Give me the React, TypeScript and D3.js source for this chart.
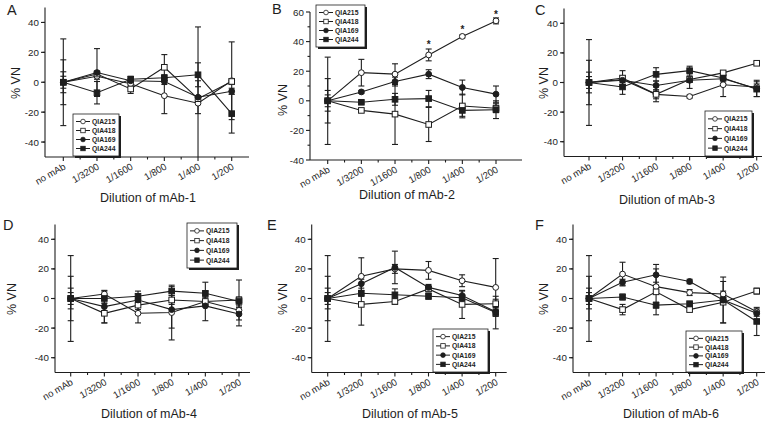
import React from "react";
import * as d3 from "d3";

// ---------- data ----------
const categories = ["no mAb", "1/3200", "1/1600", "1/800", "1/400", "1/200"];
const seriesNames = ["QIA215", "QIA418", "QIA169", "QIA244"];
const seriesMarkers = ["openCircle", "openSquare", "filledCircle", "filledSquare"];
const yTicksStd = [-40, -20, 0, 20, 40];
const yTicksB = [-40, -20, 0, 20, 40, 60];
const panelLetters = ["A", "B", "C", "D", "E", "F"];
const xTitles = ["Dilution of mAb-1", "Dilution of mAb-2", "Dilution of mAb-3", "Dilution of mAb-4", "Dilution of mAb-5", "Dilution of mAb-6"];

// Panel A
const A_QIA215 = [0, 4, -1, -9, -14, 1];
const A_QIA215_err = [29, 2, 1.5, 12, 51, 26];
const A_QIA418 = [0, 5.5, -4.5, 10, -11, 0.5];
const A_QIA418_err = [15, 2, 3, 8.5, 2, 2];
const A_QIA169 = [0, 6.5, 1, 0.5, -10, -6];
const A_QIA169_err = [7, 16, 1.5, 2, 11, 2];
const A_QIA244 = [0, -7, 2, 3, 5, -21];
const A_QIA244_err = [4, 7.5, 2, 2, 8, 13];

// Panel B
const B_QIA215 = [0, 19, 18, 31, 43.5, 54];
const B_QIA215_err = [29.5, 9, 7, 4, 1, 2];
const B_QIA418 = [0, -6.5, -9, -16, -3.5, -5];
const B_QIA418_err = [15, 1, 20.5, 11.5, 8, 3];
const B_QIA169 = [0, 6, 13, 18, 9, 4.5];
const B_QIA169_err = [7, 1, 3, 3, 5, 5.5];
const B_QIA244 = [0, -1, 1, 1.5, -6.5, -6];
const B_QIA244_err = [4, 1, 4, 5.5, 4, 6];
const B_starCategories = ["1/800", "1/400", "1/200"];
const B_starValues = [39, 49.5, 59];

// Panel C
const C_QIA215 = [0, 2, -8, -9.5, -1.5, -3];
const C_QIA215_err = [29, 2, 3, 1, 8, 2];
const C_QIA418 = [0, 3, -8, 2, 6.5, 13];
const C_QIA418_err = [15, 5, 5, 2, 1, 1];
const C_QIA169 = [0, 1.5, -2, 1.5, 2.5, -4];
const C_QIA169_err = [7, 3, 3, 5.5, 3, 5.5];
const C_QIA244 = [0, -3, 5.5, 8, 3, -4.5];
const C_QIA244_err = [4, 5, 4.5, 3, 2, 5];

// Panel D
const D_QIA215 = [0, 3, -10, -9.5, -2, -8];
const D_QIA215_err = [29, 2, 6.5, 18.5, 3, 2];
const D_QIA418 = [0, -10, -4.5, -1, -2, -1];
const D_QIA418_err = [15, 6.5, 3, 3, 3, 13.5];
const D_QIA169 = [0, -5.5, -1, -7.5, -5, -10.5];
const D_QIA169_err = [7, 11, 2, 12.5, 10, 8];
const D_QIA244 = [0, 0, 1.5, 5, 3.5, -2];
const D_QIA244_err = [4, 3, 3.5, 3, 7.5, 3];

// Panel E
const E_QIA215 = [0, 15, 20, 19, 12, 7.5];
const E_QIA215_err = [29, 12.5, 3, 6, 4, 19.5];
const E_QIA418 = [0, -4, -2, 6.5, -4, -3.5];
const E_QIA418_err = [15, 14, 2, 2, 9.5, 3];
const E_QIA169 = [0, 10, 21, 7.5, 2, -9];
const E_QIA169_err = [7, 3, 11, 2, 3, 3];
const E_QIA244 = [0, 3.5, 2.5, 1.5, 0.5, -9.5];
const E_QIA244_err = [4, 2, 4, 2, 2, 11];

// Panel F
const F_QIA215 = [0, 16.5, 8, 4, 3, -9];
const F_QIA215_err = [29, 8, 3, 2, 2, 2];
const F_QIA418 = [0, -7.5, 4.5, -7.5, -2.5, 5];
const F_QIA418_err = [15, 3.5, 15.5, 1, 14, 2];
const F_QIA169 = [0, 11, 16, 11.5, -1, -10];
const F_QIA169_err = [7, 2, 7, 1.5, 15.5, 2];
const F_QIA244 = [0, 1, -4.5, -3.5, -1, -15.5];
const F_QIA244_err = [4, 2, 2, 1, 2, 9.5];

const panelSeries = [
  [[A_QIA215, A_QIA215_err], [A_QIA418, A_QIA418_err], [A_QIA169, A_QIA169_err], [A_QIA244, A_QIA244_err]],
  [[B_QIA215, B_QIA215_err], [B_QIA418, B_QIA418_err], [B_QIA169, B_QIA169_err], [B_QIA244, B_QIA244_err]],
  [[C_QIA215, C_QIA215_err], [C_QIA418, C_QIA418_err], [C_QIA169, C_QIA169_err], [C_QIA244, C_QIA244_err]],
  [[D_QIA215, D_QIA215_err], [D_QIA418, D_QIA418_err], [D_QIA169, D_QIA169_err], [D_QIA244, D_QIA244_err]],
  [[E_QIA215, E_QIA215_err], [E_QIA418, E_QIA418_err], [E_QIA169, E_QIA169_err], [E_QIA244, E_QIA244_err]],
  [[F_QIA215, F_QIA215_err], [F_QIA418, F_QIA418_err], [F_QIA169, F_QIA169_err], [F_QIA244, F_QIA244_err]],
];

// ---------- layout ----------
type Layout = {
  axisX: number; x0: number; x5: number; xEnd: number;
  yTop: number; yBot: number; yMin: number; yMax: number;
  letter: [number, number]; title: [number, number]; ylab: [number, number];
  legend: [number, number, number, number];
};

const layouts: Layout[] = [
  { axisX: 45, x0: 63.3, x5: 231.7, xEnd: 249, yTop: 7.5, yBot: 157, yMin: -50, yMax: 50, letter: [7, 15], title: [148, 202], ylab: [20, 83], legend: [73, 114, 46, 42] },
  { axisX: 310, x0: 327.7, x5: 496, xEnd: 522, yTop: 12, yBot: 160, yMin: -40, yMax: 60, letter: [272, 14], title: [407, 199], ylab: [287, 100], legend: [316, 5, 49, 42] },
  { axisX: 564, x0: 589, x5: 756.7, xEnd: 762, yTop: 8.5, yBot: 156.5, yMin: -50, yMax: 50, letter: [535, 15], title: [667, 204], ylab: [548, 83], legend: [705, 111, 47, 45] },
  { axisX: 55, x0: 70.7, x5: 239, xEnd: 250, yTop: 224.5, yBot: 372.5, yMin: -50, yMax: 50, letter: [3, 230], title: [149, 418], ylab: [16, 299], legend: [187, 223, 50, 45] },
  { axisX: 311.7, x0: 327.7, x5: 495.7, xEnd: 506.7, yTop: 224.5, yBot: 372.5, yMin: -50, yMax: 50, letter: [267, 230], title: [410, 418], ylab: [287, 299], legend: [433, 329, 55, 43] },
  { axisX: 573, x0: 589, x5: 756.7, xEnd: 765, yTop: 224.5, yBot: 372.5, yMin: -50, yMax: 50, letter: [535, 230], title: [671, 418], ylab: [548, 299], legend: [686, 331, 56, 41] },
];

const INK = "#1e1e1e";
const FONT = "'Liberation Sans', Arial, sans-serif";
const SW = 1.1;

function Marker({ kind, x, y }: { kind: string; x: number; y: number }) {
  const r = 2.9;
  const s = 5.6;
  if (kind === "openCircle") return <circle cx={x} cy={y} r={r} fill="#fff" stroke={INK} strokeWidth={1} />;
  if (kind === "filledCircle") return <circle cx={x} cy={y} r={r} fill={INK} stroke={INK} strokeWidth={1} />;
  if (kind === "openSquare") return <rect x={x - s / 2} y={y - s / 2} width={s} height={s} fill="#fff" stroke={INK} strokeWidth={1} />;
  return <rect x={x - s / 2} y={y - s / 2} width={s} height={s} fill={INK} stroke={INK} strokeWidth={1} />;
}

function Panel({ idx }: { idx: number }) {
  const L = layouts[idx];
  const x = d3.scalePoint<string>().domain(categories).range([L.x0, L.x5]);
  const y = d3.scaleLinear().domain([L.yMin, L.yMax]).range([L.yBot, L.yTop]);
  const yTicks = idx === 1 ? yTicksB : yTicksStd;
  const minorY = d3.range(L.yMin + 10, L.yMax + 1, 20);
  const step = x.step();
  const minorX = categories.slice(0, -1).map((c) => (x(c) as number) + step / 2);
  const clamp = (v: number) => Math.max(L.yMin, Math.min(L.yMax, v));
  const line = d3.line<number>().x((_, i) => x(categories[i]) as number).y((v) => y(v));
  const series = panelSeries[idx];
  const [lx, ly, lw, lh] = L.legend;
  const rowH = (lh - 6) / 4;

  return (
    <g>
      {/* error bars */}
      {series.map(([vals, errs], si) => (
        <g key={"e" + si}>
          {vals.map((v, i) => {
            const cx = x(categories[i]) as number;
            const hi = v + errs[i];
            const lo = v - errs[i];
            return (
              <g key={i} stroke={INK} strokeWidth={SW}>
                <line x1={cx} x2={cx} y1={y(clamp(hi))} y2={y(clamp(lo))} />
                {hi <= L.yMax && <line x1={cx - 3} x2={cx + 3} y1={y(hi)} y2={y(hi)} />}
                {lo >= L.yMin && <line x1={cx - 3} x2={cx + 3} y1={y(lo)} y2={y(lo)} />}
              </g>
            );
          })}
        </g>
      ))}
      {/* lines */}
      {series.map(([vals], si) => (
        <path key={"l" + si} d={line(vals) as string} fill="none" stroke={INK} strokeWidth={SW} />
      ))}
      {/* markers */}
      {series.map(([vals], si) => (
        <g key={"m" + si}>
          {vals.map((v, i) => (
            <Marker key={i} kind={seriesMarkers[si]} x={x(categories[i]) as number} y={y(v)} />
          ))}
        </g>
      ))}
      {/* stars */}
      {idx === 1 &&
        B_starCategories.map((c, i) => (
          <text key={"s" + i} x={x(c) as number} y={y(B_starValues[i]) + 5} textAnchor="middle" fontSize={10} fontFamily={FONT} fontWeight="bold" fill={INK}>
            *
          </text>
        ))}
      {/* axes */}
      <line x1={L.axisX} x2={L.axisX} y1={L.yTop} y2={L.yBot} stroke={INK} strokeWidth={SW} />
      <line x1={L.axisX} x2={L.xEnd} y1={L.yBot} y2={L.yBot} stroke={INK} strokeWidth={SW} />
      {yTicks.map((t) => (
        <g key={"yt" + t}>
          <line x1={L.axisX - 4} x2={L.axisX} y1={y(t)} y2={y(t)} stroke={INK} strokeWidth={SW} />
          <text x={L.axisX - 6} y={y(t) + 3.5} textAnchor="end" fontSize={9.8} fontFamily={FONT} fill={INK}>
            {t}
          </text>
        </g>
      ))}
      {minorY.map((t) => (
        <line key={"ym" + t} x1={L.axisX - 2.5} x2={L.axisX} y1={y(t)} y2={y(t)} stroke={INK} strokeWidth={SW} />
      ))}
      {categories.map((c) => (
        <g key={"xt" + c}>
          <line x1={x(c) as number} x2={x(c) as number} y1={L.yBot} y2={L.yBot + 4} stroke={INK} strokeWidth={SW} />
          <text transform={`translate(${(x(c) as number) + 3},${L.yBot + 11.5}) rotate(-30)`} textAnchor="end" fontSize={9.6} fontFamily={FONT} fill={INK}>
            {c}
          </text>
        </g>
      ))}
      {minorX.map((mx, i) => (
        <line key={"xm" + i} x1={mx} x2={mx} y1={L.yBot} y2={L.yBot + 2.5} stroke={INK} strokeWidth={SW} />
      ))}
      {/* titles */}
      <text x={L.title[0]} y={L.title[1]} textAnchor="middle" fontSize={12.5} fontFamily={FONT} fill={INK}>
        {xTitles[idx]}
      </text>
      <text transform={`translate(${L.ylab[0]},${L.ylab[1]}) rotate(-90)`} textAnchor="middle" fontSize={12.5} fontFamily={FONT} fill={INK}>
        % VN
      </text>
      <text x={L.letter[0]} y={L.letter[1]} fontSize={14.5} fontFamily={FONT} fill={INK}>
        {panelLetters[idx]}
      </text>
      {/* legend */}
      <rect x={lx + 2} y={ly + 2} width={lw} height={lh} fill={INK} />
      <rect x={lx} y={ly} width={lw} height={lh} fill="#fff" stroke={INK} strokeWidth={0.8} />
      {seriesNames.map((n, si) => {
        const ry = ly + 3 + rowH * (si + 0.5);
        return (
          <g key={"lg" + n}>
            <line x1={lx + 3} x2={lx + 17} y1={ry} y2={ry} stroke={INK} strokeWidth={1} />
            <g transform={`translate(${lx + 10},${ry}) scale(0.8) translate(${-(lx + 10)},${-ry})`}>
              <Marker kind={seriesMarkers[si]} x={lx + 10} y={ry} />
            </g>
            <text x={lx + 19} y={ry + 2.4} fontSize={6.8} fontWeight="bold" fontFamily={FONT} fill={INK}>
              {n}
            </text>
          </g>
        );
      })}
    </g>
  );
}

export default function App() {
  return (
    <svg width={778} height={421} style={{ position: "absolute", left: 0, top: 0, background: "#fff" }}>
      <rect width={778} height={421} fill="#fff" />
      {layouts.map((_, i) => (
        <Panel key={i} idx={i} />
      ))}
    </svg>
  );
}
